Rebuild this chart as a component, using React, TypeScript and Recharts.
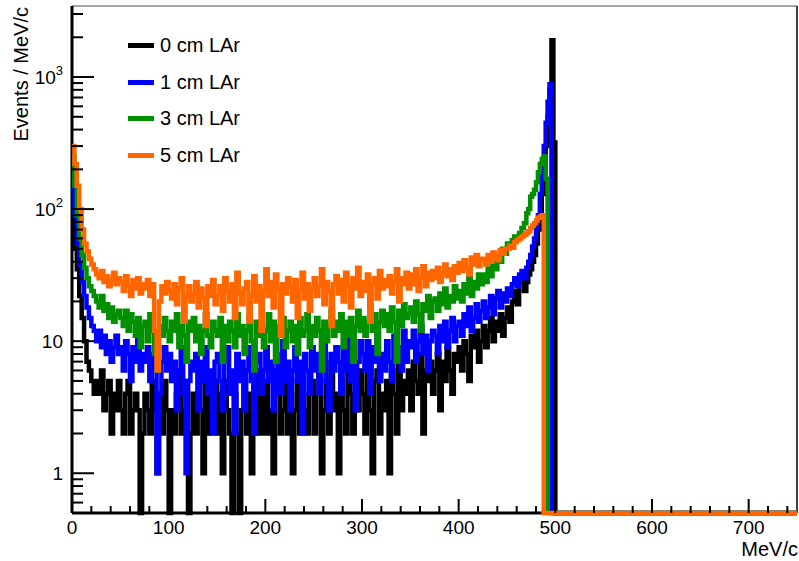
import React from 'react';
import { LineChart, Line, XAxis, YAxis, Legend, ReferenceLine } from 'recharts';

// ---- bin lower edges (MeV/c) ----
const COARSE_EDGES = Array.from({ length: 188 }, (_, i) => i * 2.5); // 0 .. 467.5
const FINE_EDGES = [470, 472, 474, 476, 478, 480, 482, 484, 486, 488, 490, 492, 494, 496, 498];
const BIN_EDGES = [...COARSE_EDGES, ...FINE_EDGES];
const TAIL_EDGES = [500, 750];
const EMPTY = 0.5; // empty bins drawn on the frame floor

// ---- series values (Events / MeV/c), 10 bins per row ----
const lar0 = [
  100, 50, 35, 22, 15, 10, 7, 6, 5, 4,
  5, 4, 6, 3, 4, 5, 2, 4, 3, 5,
  3, 2, 4, 5, 2, 3, 4, 3, 0.5, 2,
  4, 3, 2, 5, 3, 1, 4, 2, 5, 3,
  0.5, 3, 2, 4, 6, 2, 3, 5, 0.5, 2,
  4, 2, 6, 3, 1, 5, 2, 4, 3, 5,
  2, 4, 1, 5, 3, 2, 0.5, 4, 2, 0.5,
  3, 5, 2, 4, 1, 3, 6, 2, 4, 2,
  5, 2, 3, 1, 4, 6, 2, 3, 5, 2,
  4, 1, 3, 5, 2, 6, 3, 2, 4, 5,
  2, 4, 6, 1, 3, 5, 2, 7, 3, 4,
  1, 5, 3, 2, 6, 4, 2, 5, 3, 6,
  4, 2, 7, 3, 1, 5, 6, 2, 4, 3,
  5, 1, 6, 4, 2, 7, 3, 5, 4, 6,
  3, 7, 5, 4, 8, 2, 6, 5, 7, 4,
  6, 8, 3, 7, 5, 9, 6, 4, 8, 7,
  9, 6, 10, 8, 5, 11, 9, 12, 7, 10,
  13, 9, 12, 15, 10, 14, 12, 16, 11, 15,
  18, 14, 20, 24, 19, 28, 30, 24,
  28, 32, 35, 40, 45, 55, 70, 90, 130, 200, 300, 500, 800, 1900, 320,
];
const lar1 = [
  200, 90, 55, 38, 28, 22, 18, 15, 13, 12,
  10, 12, 9, 11, 8, 10, 7, 9, 11, 8,
  9, 6, 10, 8, 5, 9, 7, 11, 6, 8,
  7, 9, 5, 8, 6, 1, 4, 7, 9, 6,
  8, 5, 7, 3, 6, 9, 4, 1, 5, 7,
  6, 8, 3, 7, 5, 9, 4, 6, 2, 7,
  8, 5, 3, 7, 9, 4, 6, 2, 8, 5,
  7, 3, 6, 9, 5, 2, 7, 8, 4, 6,
  9, 5, 7, 3, 6, 8, 4, 10, 5, 7,
  3, 6, 9, 5, 7, 2, 8, 6, 4, 9,
  6, 8, 4, 7, 10, 5, 3, 8, 6, 9,
  7, 4, 9, 6, 11, 5, 8, 3, 7, 10,
  8, 6, 10, 4, 9, 7, 12, 5, 8, 6,
  10, 7, 5, 11, 8, 9, 6, 12, 7, 10,
  9, 12, 7, 10, 13, 8, 11, 6, 10, 12,
  11, 8, 13, 10, 14, 9, 12, 15, 10, 13,
  14, 11, 16, 13, 18, 12, 15, 19, 14, 17,
  20, 15, 18, 22, 16, 21, 24, 18, 23, 20,
  25, 22, 27, 30, 26, 32, 34, 30,
  36, 40, 45, 52, 60, 70, 90, 130, 200, 300, 450, 650, 880, 0.5, 0.5,
];
const lar3 = [
  250, 150, 90, 60, 45, 36, 30, 26, 24, 22,
  20, 18, 22, 17, 19, 15, 18, 14, 16, 17,
  15, 13, 17, 12, 16, 14, 11, 15, 9, 13,
  14, 10, 16, 12, 8, 6, 13, 11, 15, 12,
  10, 14, 12, 16, 9, 13, 11, 7, 14, 12,
  15, 10, 13, 8, 12, 16, 11, 9, 14, 12,
  11, 15, 7, 13, 10, 14, 12, 9, 16, 11,
  13, 8, 12, 15, 10, 6, 14, 11, 13, 9,
  12, 16, 10, 14, 7, 13, 11, 15, 9, 12,
  14, 10, 13, 8, 15, 11, 12, 16, 9, 13,
  11, 15, 12, 6, 14, 10, 13, 17, 11, 14,
  12, 16, 9, 14, 11, 15, 7, 13, 17, 12,
  15, 11, 14, 18, 12, 16, 8, 14, 17, 13,
  16, 12, 18, 14, 7, 17, 13, 19, 15, 16,
  18, 14, 20, 16, 12, 19, 17, 22, 15, 20,
  21, 17, 23, 19, 25, 18, 22, 20, 26, 21,
  24, 20, 27, 23, 30, 22, 28, 25, 32, 27,
  32, 28, 36, 31, 40, 35, 44, 40, 50, 46,
  55, 52, 58, 62, 60, 66, 72, 78,
  93, 100, 124, 130, 140, 160, 190, 220, 240, 250, 170, 0.5, 0.5, 0.5, 0.5,
];
const lar5 = [
  300, 220, 150, 100, 70, 55, 48, 42, 38, 35,
  32, 30, 34, 28, 31, 26, 29, 33, 27, 30,
  28, 24, 31, 26, 22, 29, 25, 30, 23, 27,
  25, 29, 22, 27, 12, 6, 20, 26, 23, 28,
  24, 21, 27, 19, 25, 30, 14, 22, 26, 20,
  23, 28, 18, 25, 21, 13, 26, 22, 29, 19,
  22, 26, 17, 30, 24, 20, 27, 15, 33, 23,
  19, 25, 28, 14, 22, 31, 20, 26, 12, 24,
  35, 22, 28, 18, 32, 25, 11, 27, 23, 30,
  26, 20, 29, 15, 24, 33, 21, 27, 17, 25,
  30, 22, 26, 35, 19, 28, 24, 13, 27, 31,
  23, 29, 20, 33, 26, 18, 30, 25, 36, 22,
  28, 24, 32, 14, 27, 30, 21, 34, 25, 29,
  26, 31, 23, 28, 35, 20, 30, 27, 33, 25,
  32, 27, 35, 24, 30, 37, 26, 33, 29, 34,
  30, 36, 28, 33, 38, 31, 35, 29, 37, 33,
  39, 34, 41, 36, 32, 43, 38, 45, 37, 42,
  42, 38, 45, 40, 47, 43, 41, 49, 46, 50,
  50, 53, 51, 56, 58, 60, 62, 64,
  66, 68, 72, 75, 78, 82, 86, 88, 90, 0.5, 0.5, 0.5, 0.5, 0.5, 0.5,
];

const SERIES = [
  { key: 'lar0', name: '0 cm LAr', color: '#000000', values: lar0 },
  { key: 'lar1', name: '1 cm LAr', color: '#0000ff', values: lar1 },
  { key: 'lar3', name: '3 cm LAr', color: '#009000', values: lar3 },
  { key: 'lar5', name: '5 cm LAr', color: '#ff6600', values: lar5 },
];

// ---- axes ----
const X_MAX = 750;
const X_TICKS = Array.from({ length: 38 }, (_, i) => i * 20);
const Y_MIN = 0.5;
const Y_MAX = 3450;
const Y_TICKS = [
  0.6, 0.7, 0.8, 0.9,
  1, 2, 3, 4, 5, 6, 7, 8, 9,
  10, 20, 30, 40, 50, 60, 70, 80, 90,
  100, 200, 300, 400, 500, 600, 700, 800, 900,
  1000, 2000, 3000,
];
const Y_LABELS: Record<number, [string, string]> = {
  1: ['1', ''],
  10: ['10', ''],
  100: ['10', '2'],
  1000: ['10', '3'],
};

const FONT = '"Liberation Sans", Arial, Helvetica, sans-serif';

const rows = [
  ...BIN_EDGES.map((x, i) => {
    const r: any = { x };
    SERIES.forEach((s) => (r[s.key] = s.values[i] ?? EMPTY));
    return r;
  }),
  ...TAIL_EDGES.map((x) => {
    const r: any = { x };
    SERIES.forEach((s) => (r[s.key] = EMPTY));
    return r;
  }),
];

function XTick(props: any) {
  const { x, y, payload } = props;
  const v = payload.value;
  const major = v % 100 === 0;
  return (
    <g>
      <line x1={x} x2={x} y1={y} y2={y - (major ? 14 : 7)} stroke="#000" strokeWidth={2} />
      {major && (
        <text x={x} y={y + 21} textAnchor="middle" fontSize={19} fontFamily={FONT} fill="#000">
          {v}
        </text>
      )}
    </g>
  );
}

function YTick(props: any) {
  const { x, y, payload } = props;
  const v = payload.value;
  const lbl = Y_LABELS[v];
  const major = !!lbl;
  return (
    <g>
      <line x1={x} x2={x + (major ? 22 : 11)} y1={y} y2={y} stroke="#000" strokeWidth={2} />
      {lbl && (
        <text x={x - 9} y={y + 7} textAnchor="end" fontSize={19} fontFamily={FONT} fill="#000">
          {lbl[0]}
          {lbl[1] && (
            <tspan dy={-9} fontSize={13}>
              {lbl[1]}
            </tspan>
          )}
        </text>
      )}
    </g>
  );
}

function YTitle(props: any) {
  const vb = props.viewBox || { x: 12, y: 6 };
  return (
    <text
      transform={`translate(${vb.x + 16},${vb.y + 1}) rotate(-90)`}
      textAnchor="end"
      fontSize={20}
      fontFamily={FONT}
      fill="#000"
    >
      Events / MeV/c
    </text>
  );
}

function XTitle(props: any) {
  const vb = props.viewBox || { x: 72, y: 513, width: 725 };
  return (
    <text x={vb.x + vb.width + 1} y={vb.y + 43} textAnchor="end" fontSize={20} fontFamily={FONT} fill="#000">
      MeV/c
    </text>
  );
}

function LegendBox(props: any) {
  const payload = props.payload || [];
  return (
    <div style={{ fontFamily: FONT, fontSize: 20, color: '#000' }}>
      {payload.map((p: any) => (
        <div key={p.value} style={{ height: 36.7, display: 'flex', alignItems: 'center' }}>
          <span style={{ display: 'inline-block', width: 26, height: 5, background: p.color }} />
          <span style={{ marginLeft: 6 }}>{p.value}</span>
        </div>
      ))}
    </div>
  );
}

export default function App() {
  return (
    <div style={{ position: 'absolute', left: 0, top: 0, width: 799, height: 561, background: '#fff' }}>
      <LineChart width={799} height={561} data={rows} margin={{ top: 6, right: 2, bottom: 18, left: 12 }}>
        <XAxis
          dataKey="x"
          type="number"
          domain={[0, X_MAX]}
          ticks={X_TICKS}
          interval={0}
          height={30}
          tickSize={0}
          tickMargin={0}
          tickLine={false}
          tick={<XTick />}
          axisLine={{ stroke: '#000', strokeWidth: 3 }}
          label={<XTitle />}
        />
        <YAxis
          type="number"
          scale="log"
          domain={[Y_MIN, Y_MAX]}
          ticks={Y_TICKS}
          interval={0}
          width={60}
          tickSize={0}
          tickMargin={0}
          tickLine={false}
          tick={<YTick />}
          axisLine={{ stroke: '#000', strokeWidth: 3 }}
          label={<YTitle />}
        />
        <ReferenceLine y={Y_MAX} stroke="#888" strokeWidth={1.5} />
        <ReferenceLine x={X_MAX} stroke="#000" strokeWidth={1.5} />
        <Legend
          layout="vertical"
          verticalAlign="middle"
          align="center"
          wrapperStyle={{ position: 'absolute', left: 128, top: 27, width: 160, height: 150 }}
          content={<LegendBox />}
        />
        {SERIES.map((s) => (
          <Line
            key={s.key}
            dataKey={s.key}
            name={s.name}
            stroke={s.color}
            strokeWidth={4.5}
            type="stepAfter"
            dot={false}
            activeDot={false}
            strokeLinejoin="miter"
            strokeLinecap="butt"
            isAnimationActive={false}
            {...({ zIndex: 700 } as any)}
          />
        ))}
      </LineChart>
    </div>
  );
}
